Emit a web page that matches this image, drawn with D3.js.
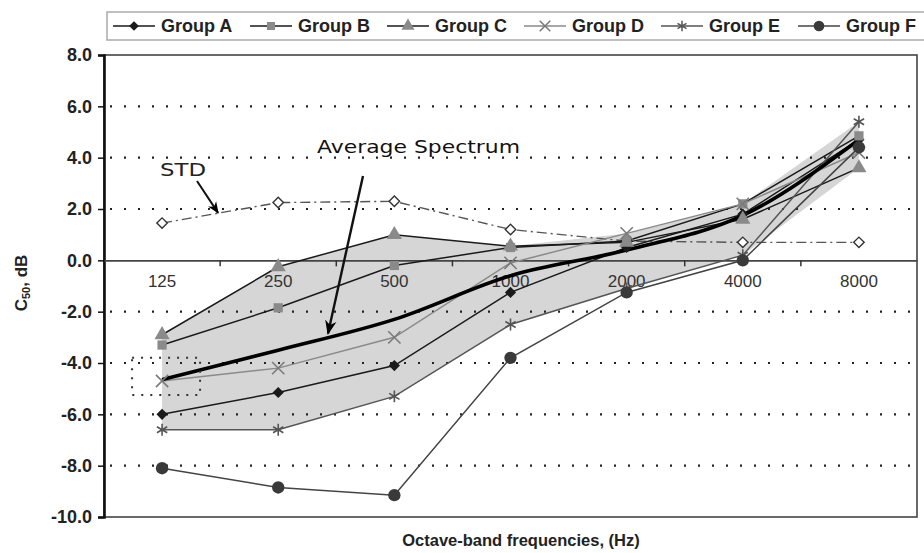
<!DOCTYPE html>
<html>
<head>
<meta charset="utf-8">
<script src="https://cdn.jsdelivr.net/npm/d3@7"></script>
<style>
  body { margin: 0; background: #fff; }
  svg { display: block; font-family: "Liberation Sans", Arial, sans-serif; }
</style>
</head>
<body>
<div id="chart"></div>
<script>
// octave bands and tick labels
const bands = ["125", "250", "500", "1000", "2000", "4000", "8000"];
const yTicks = [-10, -8, -6, -4, -2, 0, 2, 4, 6, 8];
const gridValues = [-8, -6, -4, -2, 2, 4, 6];

// C50 values per group (dB)
const groupA = [-6.0, -5.15, -4.1, -1.25, 0.5, 1.8, 4.7];
const groupB = [-3.3, -1.85, -0.2, 0.5, 0.75, 2.2, 4.85];
const groupC = [-2.9, -0.25, 1.0, 0.55, 0.7, 1.6, 3.6];
const groupD = [-4.7, -4.2, -3.0, -0.1, 1.05, 2.2, 4.2];
const groupE = [-6.6, -6.6, -5.3, -2.5, -1.1, 0.2, 5.4];
const groupF = [-8.1, -8.85, -9.15, -3.8, -1.25, 0.0, 4.4];
const average = [-4.65, -3.5, -2.3, -0.6, 0.4, 1.75, 4.7];
const stdDev = [1.45, 2.25, 2.3, 1.2, 0.75, 0.7, 0.7];

const groupNames = ["Group A", "Group B", "Group C", "Group D", "Group E", "Group F"];

const width = 924, height = 553;
const margin = { top: 55, right: 7, bottom: 36, left: 104 };

const svg = d3.select("#chart").append("svg")
  .attr("width", width)
  .attr("height", height);

const x = d3.scaleBand()
  .domain(bands)
  .range([margin.left, width - margin.right]);
const xc = d => x(d) + x.bandwidth() / 2;

const y = d3.scaleLinear()
  .domain([-10, 8])
  .range([height - margin.bottom, margin.top]);

// series styling
const series = [
  { name: groupNames[0], values: groupA, line: "#1a1a1a", mark: "#1a1a1a", sym: d3.symbolDiamond2, size: 80, stroke: false },
  { name: groupNames[1], values: groupB, line: "#1a1a1a", mark: "#8a8a8a", sym: d3.symbolSquare, size: 85, stroke: false },
  { name: groupNames[2], values: groupC, line: "#1a1a1a", mark: "#8a8a8a", sym: d3.symbolTriangle, size: 100, stroke: false },
  { name: groupNames[3], values: groupD, line: "#8a8a8a", mark: "#7a7a7a", sym: d3.symbolTimes, size: 100, stroke: true },
  { name: groupNames[4], values: groupE, line: "#555", mark: "#555", sym: d3.symbolAsterisk, size: 100, stroke: true },
  { name: groupNames[5], values: groupF, line: "#444", mark: "#3a3a3a", sym: d3.symbolCircle, size: 120, stroke: false },
];

// shaded range of groups A-E
const rangeData = bands.map((b, i) => {
  const v = [groupA[i], groupB[i], groupC[i], groupD[i], groupE[i]];
  return { band: b, lo: d3.min(v), hi: d3.max(v) };
});
svg.append("path")
  .datum(rangeData)
  .attr("fill", "#d6d6d6")
  .attr("d", d3.area()
    .x(d => xc(d.band))
    .y0(d => y(d.lo))
    .y1(d => y(d.hi)));

// dotted grid
svg.append("g")
  .selectAll("line")
  .data(gridValues)
  .join("line")
  .attr("x1", margin.left + 6)
  .attr("x2", width - margin.right)
  .attr("y1", d => y(d))
  .attr("y2", d => y(d))
  .attr("stroke", "#222")
  .attr("stroke-width", 2.2)
  .attr("stroke-dasharray", "2,12");

// frame
svg.append("rect")
  .attr("x", margin.left)
  .attr("y", margin.top)
  .attr("width", width - margin.right - margin.left)
  .attr("height", y(-10) - y(8))
  .attr("fill", "none")
  .attr("stroke", "#444")
  .attr("stroke-width", 1.6);

// y axis
const fmt = d => d3.format(".1f")(d).replace("\u2212", "-");
const yAxis = svg.append("g")
  .attr("transform", `translate(${margin.left},0)`)
  .call(d3.axisLeft(y).tickValues(yTicks).tickFormat(fmt).tickSize(6).tickPadding(6));
yAxis.select(".domain").attr("stroke", "#111").attr("stroke-width", 2.6);
yAxis.selectAll(".tick line").attr("stroke", "#111").attr("stroke-width", 1.5);
yAxis.selectAll(".tick text")
  .attr("font-size", 18)
  .attr("font-weight", "bold")
  .attr("fill", "#222")
  .attr("font-family", "Liberation Sans, Arial, sans-serif");

// x axis along zero
const xAxis = svg.append("g")
  .attr("transform", `translate(0,${y(0)})`)
  .call(d3.axisBottom(x).tickSize(0).tickPadding(15));
xAxis.select(".domain").attr("stroke", "#444").attr("stroke-width", 1.8);
xAxis.selectAll(".tick text")
  .attr("font-size", 17)
  .attr("fill", "#333")
  .attr("font-family", "Liberation Sans, Arial, sans-serif");
svg.append("g")
  .selectAll("line")
  .data(bands.slice(1))
  .join("line")
  .attr("x1", d => x(d))
  .attr("x2", d => x(d))
  .attr("y1", y(0))
  .attr("y2", y(0) + 6)
  .attr("stroke", "#333")
  .attr("stroke-width", 1.5);

// axis titles
svg.append("text")
  .attr("x", 521)
  .attr("y", 546)
  .attr("text-anchor", "middle")
  .attr("font-size", 16.5)
  .attr("font-weight", "bold")
  .attr("fill", "#222")
  .text("Octave-band frequencies, (Hz)");

const yt = svg.append("text")
  .attr("transform", "translate(27,283) rotate(-90)")
  .attr("text-anchor", "middle")
  .attr("font-size", 17)
  .attr("font-weight", "bold")
  .attr("fill", "#222");
yt.append("tspan").text("C");
yt.append("tspan").attr("font-size", 11).attr("dy", 3).text("50");
yt.append("tspan").attr("dy", -3).text(", dB");

// STD line (dash-dot)
const line = d3.line().x((d, i) => xc(bands[i])).y(d => y(d));
svg.append("path")
  .datum(stdDev)
  .attr("fill", "none")
  .attr("stroke", "#555")
  .attr("stroke-width", 1.4)
  .attr("stroke-dasharray", "10,4,2,4")
  .attr("d", line);
svg.append("g")
  .selectAll("path")
  .data(stdDev)
  .join("path")
  .attr("transform", (d, i) => `translate(${xc(bands[i])},${y(d)})`)
  .attr("d", d3.symbol(d3.symbolDiamond2, 70))
  .attr("fill", "#fff")
  .attr("stroke", "#333")
  .attr("stroke-width", 1.4);

// group lines
series.forEach(s => {
  svg.append("path")
    .datum(s.values)
    .attr("fill", "none")
    .attr("stroke", s.line)
    .attr("stroke-width", 1.5)
    .attr("d", line);
});

// average spectrum
svg.append("path")
  .datum(average)
  .attr("fill", "none")
  .attr("stroke", "#000")
  .attr("stroke-width", 3.6)
  .attr("d", d3.line().curve(d3.curveMonotoneX).x((d, i) => xc(bands[i])).y(d => y(d)));

// markers
series.forEach(s => {
  svg.append("g")
    .selectAll("path")
    .data(s.values)
    .join("path")
    .attr("transform", (d, i) => `translate(${xc(bands[i])},${y(d)})`)
    .attr("d", d3.symbol(s.sym, s.size))
    .attr("fill", s.stroke ? "none" : s.mark)
    .attr("stroke", s.stroke ? s.mark : "none")
    .attr("stroke-width", 1.6);
});

// dotted box near 125 Hz
svg.append("rect")
  .attr("x", xc("125") - 30)
  .attr("y", y(-3.8))
  .attr("width", 68)
  .attr("height", y(-5.25) - y(-3.8))
  .attr("fill", "none")
  .attr("stroke", "#333")
  .attr("stroke-width", 2)
  .attr("stroke-dasharray", "2,7");

// annotations
const defs = svg.append("defs");
defs.append("marker")
  .attr("id", "arrow")
  .attr("viewBox", "0 0 10 10")
  .attr("refX", 9).attr("refY", 5)
  .attr("markerWidth", 6).attr("markerHeight", 8)
  .attr("orient", "auto")
  .append("path")
  .attr("d", "M0,1 L10,5 L0,9 L3,5 Z")
  .attr("fill", "#000");

svg.append("text")
  .attr("x", 160).attr("y", 176)
  .attr("font-family", "DejaVu Sans, sans-serif")
  .attr("font-size", 17)
  .attr("textLength", 46)
  .attr("lengthAdjust", "spacingAndGlyphs")
  .attr("fill", "#222")
  .text("STD");
svg.append("line")
  .attr("x1", 197).attr("y1", 181)
  .attr("x2", xc("125") + 56).attr("y2", y(1.85))
  .attr("stroke", "#111").attr("stroke-width", 2)
  .attr("marker-end", "url(#arrow)");

svg.append("text")
  .attr("x", 317).attr("y", 153)
  .attr("font-family", "DejaVu Sans, sans-serif")
  .attr("font-size", 17)
  .attr("textLength", 203)
  .attr("lengthAdjust", "spacingAndGlyphs")
  .attr("fill", "#111")
  .text("Average Spectrum");
svg.append("line")
  .attr("x1", 363).attr("y1", 176)
  .attr("x2", 328).attr("y2", y(-2.85))
  .attr("stroke", "#111").attr("stroke-width", 2.4)
  .attr("marker-end", "url(#arrow)");

// legend
const legend = svg.append("g");
legend.append("rect")
  .attr("x", 107).attr("y", 12)
  .attr("width", 830).attr("height", 28)
  .attr("fill", "#fff")
  .attr("stroke", "#aaa")
  .attr("stroke-width", 1.5);
const item = legend.selectAll("g.item")
  .data(series)
  .join("g")
  .attr("class", "item")
  .attr("transform", (d, i) => `translate(${161 + i * 137},26)`);
item.append("line")
  .attr("x1", -48).attr("x2", -6)
  .attr("stroke", d => d.line)
  .attr("stroke-width", 1.5);
item.append("path")
  .attr("transform", "translate(-27,0)")
  .attr("d", d => d3.symbol(d.sym, d.size * 0.75)())
  .attr("fill", d => d.stroke ? "none" : d.mark)
  .attr("stroke", d => d.stroke ? d.mark : "none")
  .attr("stroke-width", 1.5);
item.append("text")
  .attr("x", 0).attr("dy", "0.35em")
  .attr("font-size", 18)
  .attr("font-weight", "bold")
  .attr("fill", "#222")
  .text(d => d.name);
</script>
</body>
</html>
